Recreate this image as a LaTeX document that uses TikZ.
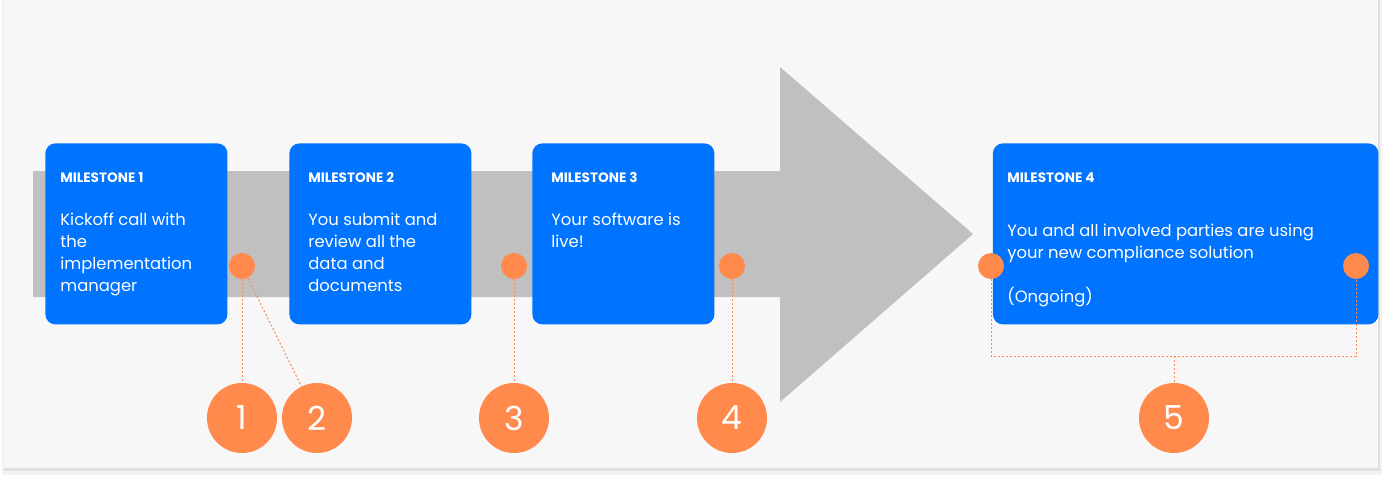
\documentclass[tikz,border=0pt]{standalone}
\usepackage{fontspec}
\setmainfont{Poppins}
\usetikzlibrary{positioning,calc}
\definecolor{panelbg}{RGB}{247,247,247}
\definecolor{arrowgray}{RGB}{192,192,192}
\definecolor{mileblue}{RGB}{0,115,255}
\definecolor{markorange}{RGB}{255,138,76}

\begin{document}
\begin{tikzpicture}[x=0.5pt, y=-0.5pt,
    milestone/.style={fill=mileblue, rounded corners=5pt, minimum height=90.5pt,
      inner sep=0pt, anchor=north west},
    mtitle/.style={anchor=base west, inner sep=0pt, text=white,
      font=\fontsize{6.8}{8}\selectfont\bfseries},
    mbody/.style={anchor=base west, inner sep=0pt, text=white, align=left,
      font=\fontsize{8.2}{11}\selectfont},
    dot/.style={circle, fill=markorange, minimum size=13pt, inner sep=0pt},
    numcircle/.style={circle, fill=markorange, minimum size=35pt, inner sep=0pt,
      text=white, font=\fontsize{16.5}{18}\selectfont},
    lead/.style={draw=markorange, line width=0.5pt, dash pattern=on 1pt off 1pt}]

  % Panel with shadow
  \useasboundingbox (0,0) rectangle (1382,478);
  \fill[black!5] (2,0) rectangle (1382,475);
  \fill[black!13] (4,0) rectangle (1380,471);
  \fill[panelbg] (4,0) rectangle (1378,468);

  % Big gray arrow
  \fill[arrowgray] (33,171) -- (780,171) -- (780,67) -- (973,234)
    -- (780,402) -- (780,297) -- (33,297) -- cycle;

  % Milestone boxes
  \node[milestone, minimum width=91pt] (m1) at (45,143) {};
  \node[milestone, minimum width=91pt] (m2) at (289,143) {};
  \node[milestone, minimum width=91pt] (m3) at (532,143) {};
  \node[milestone, minimum width=192.75pt] (m4) at (992.5,143) {};

  % Titles
  \foreach \n/\x in {1/60, 2/308, 3/551, 4/1007} {
    \node[mtitle] (t\n) at (\x,182) {MILESTONE \n};
  }

  % Texts (base = last line)
  \node[mbody] (b1) at (60,291) {Kickoff call with\\the\\implementation\\manager};
  \node[mbody] (b2) at (308,291) {You submit and\\review all the\\data and\\documents};
  \node[mbody] (b3) at (551,247) {Your software is\\live!};
  \node[mbody] (b4) at (1007,258) {You and all involved parties are using\\your new compliance solution};
  \node[mbody] (b4o) at (1007,302) {(Ongoing)};

  % Markers on the timeline
  \foreach \name/\x in {d1/242, d3/514, d4/732, d5l/991, d5r/1356} {
    \node[dot] (\name) at (\x,266) {};
  }

  % Numbered circles
  \foreach \n/\x in {1/242, 2/317, 3/514, 4/732, 5/1174} {
    \node[numcircle] (n\n) at (\x,418) {\n};
  }

  % Dotted leaders
  \coordinate (brk) at (1174,356);
  \draw[lead] (d1) -- (n1);
  \draw[lead] (d1) -- (n2);
  \draw[lead] (d3) -- (n3);
  \draw[lead] (d4) -- (n4);
  \draw[lead] (d5l) |- (brk) -| (d5r);
  \draw[lead] (brk) -- (n5);

\end{tikzpicture}
\end{document}
